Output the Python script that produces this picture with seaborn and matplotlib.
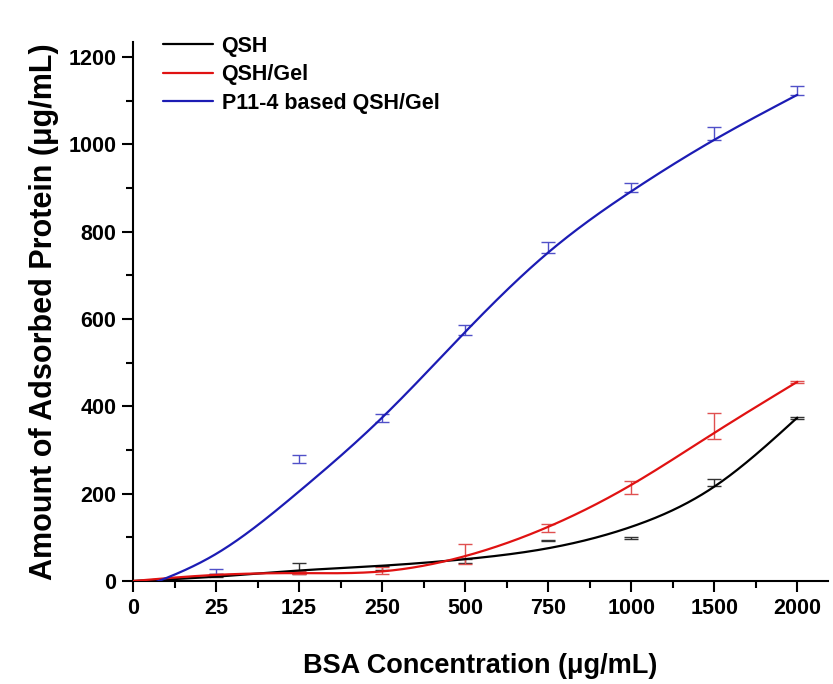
import numpy as np
import pandas as pd
import matplotlib
matplotlib.use("Agg")
import matplotlib.pyplot as plt
from matplotlib.ticker import MultipleLocator, AutoMinorLocator
import seaborn as sns

# BSA concentrations (µg/mL), shown as evenly spaced categories
conc_labels = ["0", "25", "125", "250", "500", "750", "1000", "1500", "2000"]
point_pos = [1, 2, 3, 4, 5, 6, 7, 8]

# Measured adsorbed protein (µg/mL), mean ± SD
qsh_mean = [12, 28, 30, 46, 92, 98, 225, 374]
qsh_err = [3, 13, 4, 5, 1.5, 2, 8, 2]
gel_mean = [14, 19, 25, 62, 121, 214, 355, 456]
gel_err = [3, 4, 8, 23, 9, 15, 30, 3]
p11_mean = [22, 279, 373, 575, 763, 901, 1025, 1123]
p11_err = [5, 9, 10, 12, 12, 11, 15, 10]

# Fitted trend curves, values at each category position
fit_pos = [0, 1, 2, 3, 4, 5, 6, 7, 8]
qsh_fit = [0, 10, 24, 35, 50, 75, 124, 216, 374]
gel_fit = [0, 14, 18, 22, 57, 124, 220, 339, 456]
p11_fit = [-22, 62, 205, 374, 570, 752, 892, 1010, 1113]

series_names = ["QSH", "QSH/Gel", "P11-4 based QSH/Gel"]
line_colors = ["#000000", "#e01212", "#1c1cb4"]
bar_colors = ["#333333", "#e05050", "#5050c8"]


def natural_spline(x, y, xs):
    x = np.asarray(x, float)
    y = np.asarray(y, float)
    n = len(x)
    h = np.diff(x)
    A = np.zeros((n, n))
    b = np.zeros(n)
    A[0, 0] = A[-1, -1] = 1.0
    for i in range(1, n - 1):
        A[i, i - 1] = h[i - 1]
        A[i, i] = 2 * (h[i - 1] + h[i])
        A[i, i + 1] = h[i]
        b[i] = 6 * ((y[i + 1] - y[i]) / h[i] - (y[i] - y[i - 1]) / h[i - 1])
    M = np.linalg.solve(A, b)
    idx = np.clip(np.searchsorted(x, xs) - 1, 0, n - 2)
    x0, x1 = x[idx], x[idx + 1]
    hh = x1 - x0
    a = (x1 - xs) / hh
    c = (xs - x0) / hh
    return (a * y[idx] + c * y[idx + 1]
            + ((a ** 3 - a) * M[idx] + (c ** 3 - c) * M[idx + 1]) * hh ** 2 / 6)


xs = np.linspace(0, 8, 600)
frames = []
for name, fit in zip(series_names, [qsh_fit, gel_fit, p11_fit]):
    frames.append(pd.DataFrame({"pos": xs, "value": natural_spline(fit_pos, fit, xs),
                                "series": name}))
curves = pd.concat(frames, ignore_index=True)

sns.set_theme(style="ticks")
plt.rcParams["font.family"] = ["Liberation Sans", "DejaVu Sans"]
plt.rcParams["font.weight"] = "bold"
for key in ["text.color", "axes.labelcolor", "xtick.color", "ytick.color",
            "axes.edgecolor"]:
    plt.rcParams[key] = "black"

fig = plt.figure(figsize=(8.33, 6.84), dpi=100)
ax = fig.add_axes([133 / 833, 1 - 581 / 684, (828 - 133) / 833, (581 - 42) / 684])

sns.lineplot(data=curves, x="pos", y="value", hue="series", hue_order=series_names,
             palette=dict(zip(series_names, line_colors)), estimator=None, sort=False,
             linewidth=1.6, ax=ax, zorder=3)

for mean, err, col in zip([qsh_mean, gel_mean, p11_mean],
                          [qsh_err, gel_err, p11_err], bar_colors):
    ax.errorbar(point_pos, mean, yerr=err, fmt="none", ecolor=col,
                elinewidth=1.0, capsize=5, capthick=1.0, zorder=2)

ax.set_xlim(0, 8.37)
ax.set_ylim(0, 1234)
ax.set_xticks(range(len(conc_labels)))
ax.set_xticklabels(conc_labels)
ax.xaxis.set_minor_locator(AutoMinorLocator(2))
ax.yaxis.set_major_locator(MultipleLocator(200))
ax.yaxis.set_minor_locator(MultipleLocator(100))

for side in ["top", "right"]:
    ax.spines[side].set_visible(False)
for side in ["left", "bottom"]:
    ax.spines[side].set_linewidth(1.5)
    ax.spines[side].set_color("black")

ax.tick_params(which="major", direction="out", length=8, width=1.5, color="black",
               labelsize=15.5, pad=4)
ax.tick_params(which="minor", direction="out", length=5, width=1.5, color="black")
for lab in ax.get_xticklabels() + ax.get_yticklabels():
    lab.set_fontweight("bold")

ax.set_xlabel("BSA Concentration (μg/mL)", fontsize=19.5, fontweight="bold", labelpad=25)
ax.set_ylabel("Amount of Adsorbed Protein (μg/mL)", fontsize=22, fontweight="bold",
              labelpad=7)

handles, labels = ax.get_legend_handles_labels()
ax.legend(handles, labels, loc="upper left", frameon=False,
          bbox_to_anchor=(163 / 833, 1 - 36 / 684), bbox_transform=fig.transFigure,
          borderpad=0, borderaxespad=0, handlelength=2.3, handletextpad=0.42,
          labelspacing=0.34, prop={"weight": "bold", "size": 15.5})

fig.savefig("out.png", dpi=100)
